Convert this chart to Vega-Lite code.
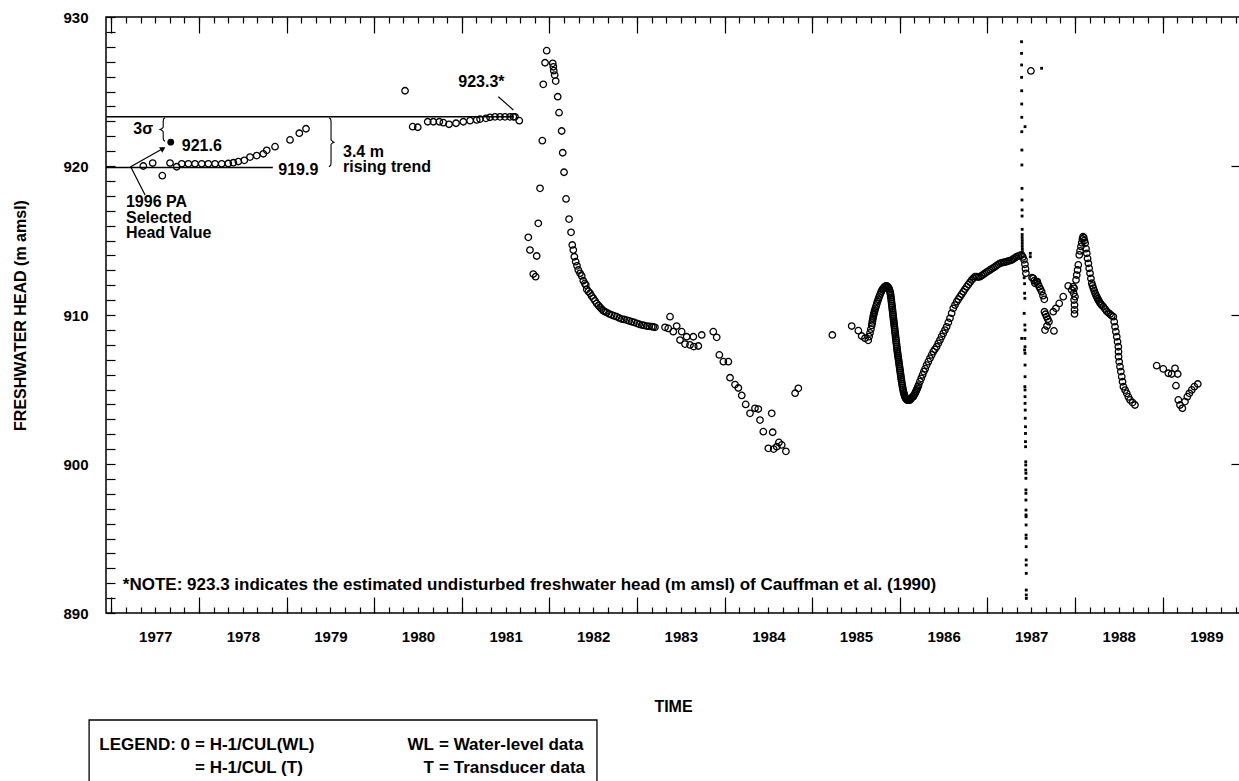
{
  "$schema": "https://vega.github.io/schema/vega-lite/v6.json",
  "width": 1134,
  "height": 596,
  "autosize": {"type": "none"},
  "padding": {"left": 106, "top": 17, "right": 0, "bottom": 168},
  "background": "white",
  "config": {
    "view": {"stroke": "black", "strokeWidth": 1.5},
    "font": "Liberation Sans",
    "axis": {
      "labelFont": "Liberation Sans", "labelFontWeight": "bold", "labelFontSize": 15, "labelColor": "black",
      "titleFont": "Liberation Sans", "titleFontWeight": "bold", "titleFontSize": 16, "titleColor": "black",
      "tickColor": "black", "tickWidth": 1.2, "grid": false, "domain": false,
      "labelFlush": false, "labelOverlap": false, "labelBound": false
    }
  },
  "datasets": {
    "wl": [
      {"t":1977.364,"h":920.0},{"t":1977.471,"h":920.2},{"t":1977.581,"h":919.35},{"t":1977.669,"h":920.2},{"t":1977.745,"h":919.95},
      {"t":1977.803,"h":920.15},{"t":1977.878,"h":920.15},{"t":1977.954,"h":920.15},{"t":1978.031,"h":920.15},{"t":1978.106,"h":920.15},
      {"t":1978.183,"h":920.15},{"t":1978.259,"h":920.15},{"t":1978.334,"h":920.17},{"t":1978.392,"h":920.22},{"t":1978.449,"h":920.3},
      {"t":1978.517,"h":920.38},{"t":1978.582,"h":920.6},{"t":1978.659,"h":920.7},{"t":1978.734,"h":920.82},{"t":1978.773,"h":921.05},
      {"t":1978.868,"h":921.3},{"t":1979.039,"h":921.75},{"t":1979.145,"h":922.2},{"t":1979.221,"h":922.5},
      {"t":1980.352,"h":925.05},{"t":1980.439,"h":922.64},{"t":1980.497,"h":922.6},{"t":1980.611,"h":922.97},{"t":1980.675,"h":922.97},
      {"t":1980.743,"h":922.97},{"t":1980.789,"h":922.91},{"t":1980.854,"h":922.8},{"t":1980.934,"h":922.87},{"t":1981.017,"h":922.97},
      {"t":1981.094,"h":923.04},{"t":1981.17,"h":923.09},{"t":1981.208,"h":923.15},{"t":1981.276,"h":923.2},{"t":1981.322,"h":923.27},
      {"t":1981.379,"h":923.3},{"t":1981.436,"h":923.3},{"t":1981.493,"h":923.3},{"t":1981.55,"h":923.3},{"t":1981.588,"h":923.3},
      {"t":1981.607,"h":923.3},{"t":1981.656,"h":923.04},
      {"t":1981.759,"h":915.21},{"t":1981.778,"h":914.36},{"t":1981.816,"h":912.75},{"t":1981.843,"h":912.57},{"t":1981.855,"h":913.96},
      {"t":1981.873,"h":916.15},{"t":1981.893,"h":918.5},{"t":1981.919,"h":921.7},{"t":1981.93,"h":925.48},{"t":1981.95,"h":926.93},
      {"t":1981.969,"h":927.74},{"t":1982.038,"h":926.89},{"t":1982.045,"h":926.66},{"t":1982.05,"h":926.4},{"t":1982.06,"h":926.1},
      {"t":1982.072,"h":925.7},{"t":1982.095,"h":924.65},{"t":1982.11,"h":923.58},{"t":1982.14,"h":922.35},{"t":1982.152,"h":920.89},
      {"t":1982.167,"h":919.58},{"t":1982.19,"h":917.79},{"t":1982.224,"h":916.44},{"t":1982.247,"h":915.55},{"t":1982.261,"h":914.7},
      {"t":1982.273,"h":914.36},{"t":1982.285,"h":913.91},{"t":1982.3,"h":913.58},{"t":1982.315,"h":913.3},{"t":1982.33,"h":913.02},
      {"t":1982.35,"h":912.8},{"t":1982.369,"h":912.62},{"t":1982.387,"h":912.3},{"t":1982.405,"h":912.12},{"t":1982.415,"h":912.01},
      {"t":1982.426,"h":911.72},{"t":1982.445,"h":911.58},{"t":1982.464,"h":911.46},{"t":1982.482,"h":911.28},{"t":1982.501,"h":911.12},
      {"t":1982.52,"h":910.95},{"t":1982.54,"h":910.78},{"t":1982.56,"h":910.64},{"t":1982.578,"h":910.52},{"t":1982.597,"h":910.4},
      {"t":1982.615,"h":910.29},{"t":1982.635,"h":910.22},{"t":1982.654,"h":910.16},{"t":1982.683,"h":910.07},{"t":1982.711,"h":910.0},
      {"t":1982.74,"h":909.94},{"t":1982.768,"h":909.89},{"t":1982.797,"h":909.8},{"t":1982.825,"h":909.73},{"t":1982.853,"h":909.7},
      {"t":1982.882,"h":909.66},{"t":1982.91,"h":909.6},{"t":1982.939,"h":909.55},{"t":1982.968,"h":909.5},{"t":1982.997,"h":909.44},
      {"t":1983.025,"h":909.38},{"t":1983.054,"h":909.33},{"t":1983.08,"h":909.3},{"t":1983.111,"h":909.26},{"t":1983.14,"h":909.24},
      {"t":1983.168,"h":909.22},{"t":1983.185,"h":909.2},{"t":1983.205,"h":909.17},
      {"t":1983.32,"h":909.17},{"t":1983.357,"h":909.1},{"t":1983.377,"h":909.89},{"t":1983.414,"h":908.88},{"t":1983.453,"h":909.26},
      {"t":1983.491,"h":908.32},{"t":1983.51,"h":908.88},{"t":1983.548,"h":908.05},{"t":1983.567,"h":908.54},{"t":1983.605,"h":907.99},
      {"t":1983.643,"h":908.54},{"t":1983.648,"h":907.88},{"t":1983.7,"h":907.92},{"t":1983.739,"h":908.66},{"t":1983.871,"h":908.88},
      {"t":1983.91,"h":908.5},{"t":1983.94,"h":907.32},{"t":1983.986,"h":906.87},{"t":1984.043,"h":906.87},{"t":1984.062,"h":905.79},
      {"t":1984.119,"h":905.33},{"t":1984.157,"h":905.1},{"t":1984.196,"h":904.6},{"t":1984.241,"h":904.0},{"t":1984.29,"h":903.4},
      {"t":1984.347,"h":903.74},{"t":1984.385,"h":903.69},{"t":1984.404,"h":902.95},{"t":1984.442,"h":902.17},{"t":1984.538,"h":903.4},
      {"t":1984.549,"h":902.13},{"t":1984.499,"h":901.05},{"t":1984.56,"h":901.0},{"t":1984.595,"h":901.16},{"t":1984.62,"h":901.45},
      {"t":1984.652,"h":901.28},{"t":1984.7,"h":900.85},{"t":1984.805,"h":904.75},{"t":1984.842,"h":905.08},
      {"t":1985.23,"h":908.66},{"t":1985.451,"h":909.26},{"t":1985.527,"h":908.95},{"t":1985.565,"h":908.59},{"t":1985.603,"h":908.44},
      {"t":1985.64,"h":908.3},{"t":1985.65,"h":908.55},{"t":1985.66,"h":908.8},{"t":1985.67,"h":909.05},{"t":1985.68,"h":909.3},
      {"t":1985.684,"h":909.45},{"t":1985.688,"h":909.6},{"t":1985.693,"h":909.75},{"t":1985.697,"h":909.89},{"t":1985.701,"h":910.0},
      {"t":1985.705,"h":910.1},{"t":1985.71,"h":910.2},{"t":1985.714,"h":910.3},{"t":1985.722,"h":910.45},
      {"t":1985.73,"h":910.6},{"t":1985.738,"h":910.75},{"t":1985.746,"h":910.9},{"t":1985.755,"h":911.05},{"t":1985.764,"h":911.2},
      {"t":1985.773,"h":911.35},{"t":1985.782,"h":911.48},{"t":1985.791,"h":911.6},{"t":1985.8,"h":911.7},{"t":1985.81,"h":911.78},
      {"t":1985.82,"h":911.85},{"t":1985.83,"h":911.9},{"t":1985.84,"h":911.95},{"t":1985.85,"h":911.95},{"t":1985.86,"h":911.92},
      {"t":1985.87,"h":911.85},{"t":1985.88,"h":911.75},
      {"t":1985.888,"h":911.6},{"t":1985.891,"h":911.5},{"t":1985.894,"h":911.4},{"t":1985.897,"h":911.28},{"t":1985.9,"h":911.15},
      {"t":1985.9025,"h":911.03},{"t":1985.905,"h":910.9},{"t":1985.9075,"h":910.78},{"t":1985.91,"h":910.65},{"t":1985.9125,"h":910.53},
      {"t":1985.915,"h":910.4},{"t":1985.9175,"h":910.28},{"t":1985.92,"h":910.15},{"t":1985.9225,"h":910.03},{"t":1985.925,"h":909.9},
      {"t":1985.9275,"h":909.78},{"t":1985.93,"h":909.65},{"t":1985.9325,"h":909.53},{"t":1985.935,"h":909.4},{"t":1985.9375,"h":909.28},
      {"t":1985.94,"h":909.15},{"t":1985.9425,"h":909.03},{"t":1985.945,"h":908.9},{"t":1985.9475,"h":908.78},{"t":1985.95,"h":908.65},
      {"t":1985.9525,"h":908.53},{"t":1985.955,"h":908.4},{"t":1985.9575,"h":908.28},{"t":1985.96,"h":908.15},{"t":1985.9625,"h":908.03},
      {"t":1985.965,"h":907.9},{"t":1985.9675,"h":907.78},{"t":1985.97,"h":907.65},{"t":1985.973,"h":907.53},{"t":1985.976,"h":907.4},
      {"t":1985.979,"h":907.28},{"t":1985.982,"h":907.15},{"t":1985.985,"h":907.03},{"t":1985.988,"h":906.9},{"t":1985.991,"h":906.78},
      {"t":1985.994,"h":906.65},{"t":1985.997,"h":906.53},{"t":1986.0,"h":906.4},{"t":1986.003,"h":906.28},{"t":1986.006,"h":906.15},
      {"t":1986.009,"h":906.03},{"t":1986.012,"h":905.9},{"t":1986.015,"h":905.78},{"t":1986.018,"h":905.65},{"t":1986.021,"h":905.53},
      {"t":1986.025,"h":905.4},{"t":1986.028,"h":905.28},{"t":1986.032,"h":905.15},{"t":1986.036,"h":905.03},{"t":1986.04,"h":904.9},
      {"t":1986.045,"h":904.78},{"t":1986.05,"h":904.68},{"t":1986.055,"h":904.58},{"t":1986.06,"h":904.5},{"t":1986.066,"h":904.43},
      {"t":1986.072,"h":904.38},{"t":1986.078,"h":904.33},{"t":1986.085,"h":904.3},{"t":1986.092,"h":904.28},{"t":1986.1,"h":904.28},
      {"t":1986.107,"h":904.28},{"t":1986.115,"h":904.3},{"t":1986.122,"h":904.34},{"t":1986.13,"h":904.4},{"t":1986.142,"h":904.5},
      {"t":1986.154,"h":904.52},{"t":1986.162,"h":904.61},{"t":1986.17,"h":904.7},{"t":1986.178,"h":904.79},
      {"t":1986.185,"h":904.88},{"t":1986.193,"h":904.98},{"t":1986.2,"h":905.08},{"t":1986.208,"h":905.19},{"t":1986.215,"h":905.3},
      {"t":1986.23,"h":905.53},{"t":1986.245,"h":905.75},
      {"t":1986.26,"h":905.98},{"t":1986.275,"h":906.2},{"t":1986.29,"h":906.4},{"t":1986.307,"h":906.64},{"t":1986.326,"h":906.87},
      {"t":1986.345,"h":907.09},{"t":1986.364,"h":907.32},{"t":1986.382,"h":907.54},{"t":1986.401,"h":907.7},{"t":1986.421,"h":907.87},
      {"t":1986.44,"h":908.1},{"t":1986.459,"h":908.32},{"t":1986.478,"h":908.55},{"t":1986.497,"h":908.77},{"t":1986.516,"h":908.99},
      {"t":1986.535,"h":909.21},{"t":1986.554,"h":909.5},{"t":1986.573,"h":909.78},{"t":1986.592,"h":910.12},{"t":1986.611,"h":910.45},
      {"t":1986.63,"h":910.67},{"t":1986.65,"h":910.89},{"t":1986.668,"h":911.06},{"t":1986.687,"h":911.23},{"t":1986.706,"h":911.4},
      {"t":1986.725,"h":911.56},{"t":1986.744,"h":911.73},{"t":1986.764,"h":911.9},{"t":1986.783,"h":912.05},{"t":1986.802,"h":912.2},
      {"t":1986.821,"h":912.35},{"t":1986.84,"h":912.46},{"t":1986.858,"h":912.57},{"t":1986.878,"h":912.57},{"t":1986.897,"h":912.55},
      {"t":1986.916,"h":912.57},{"t":1986.935,"h":912.65},{"t":1986.954,"h":912.72},{"t":1986.973,"h":912.8},{"t":1986.992,"h":912.88},
      {"t":1987.011,"h":912.95},{"t":1987.03,"h":913.02},{"t":1987.049,"h":913.1},{"t":1987.068,"h":913.17},{"t":1987.087,"h":913.24},
      {"t":1987.106,"h":913.32},{"t":1987.125,"h":913.4},{"t":1987.144,"h":913.47},{"t":1987.163,"h":913.5},{"t":1987.182,"h":913.53},
      {"t":1987.201,"h":913.55},{"t":1987.22,"h":913.58},{"t":1987.239,"h":913.62},{"t":1987.258,"h":913.65},{"t":1987.277,"h":913.69},
      {"t":1987.296,"h":913.76},{"t":1987.315,"h":913.84},{"t":1987.334,"h":913.91},{"t":1987.353,"h":913.95},{"t":1987.372,"h":914.0},
      {"t":1987.391,"h":914.03},{"t":1987.405,"h":913.9},{"t":1987.418,"h":913.7},{"t":1987.429,"h":913.4},{"t":1987.435,"h":913.1},
      {"t":1987.44,"h":912.8},
      {"t":1987.497,"h":926.38},
      {"t":1987.51,"h":912.5},{"t":1987.524,"h":912.46},{"t":1987.535,"h":912.3},{"t":1987.543,"h":912.13},{"t":1987.557,"h":912.24},
      {"t":1987.57,"h":912.24},{"t":1987.58,"h":912.05},{"t":1987.592,"h":911.9},{"t":1987.605,"h":911.75},{"t":1987.62,"h":911.56},
      {"t":1987.635,"h":911.3},{"t":1987.65,"h":911.05},{"t":1987.652,"h":910.22},{"t":1987.664,"h":910.05},{"t":1987.677,"h":909.89},
      {"t":1987.69,"h":909.72},{"t":1987.703,"h":909.55},{"t":1987.68,"h":909.26},{"t":1987.658,"h":908.99},{"t":1987.76,"h":908.93},
      {"t":1987.752,"h":910.22},{"t":1987.783,"h":910.45},{"t":1987.82,"h":910.78},{"t":1987.866,"h":911.23},{"t":1987.923,"h":911.95},
      {"t":1987.962,"h":911.68},{"t":1987.98,"h":911.9},{"t":1987.99,"h":911.79},{"t":1987.985,"h":911.46},{"t":1988.0,"h":911.23},
      {"t":1987.99,"h":911.0},{"t":1987.995,"h":910.67},{"t":1987.995,"h":910.34},{"t":1987.995,"h":910.07},
      {"t":1988.012,"h":912.35},{"t":1988.02,"h":912.68},{"t":1988.03,"h":913.02},{"t":1988.038,"h":913.36},{"t":1988.049,"h":914.03},
      {"t":1988.058,"h":914.3},{"t":1988.068,"h":914.6},{"t":1988.077,"h":914.85},{"t":1988.085,"h":915.1},{"t":1988.092,"h":915.26},
      {"t":1988.1,"h":915.2},{"t":1988.108,"h":915.0},{"t":1988.116,"h":914.81},{"t":1988.126,"h":914.45},{"t":1988.135,"h":914.14},
      {"t":1988.144,"h":913.8},{"t":1988.153,"h":913.47},{"t":1988.162,"h":913.13},{"t":1988.172,"h":912.8},{"t":1988.182,"h":912.45},
      {"t":1988.192,"h":912.13},{"t":1988.2,"h":911.96},{"t":1988.21,"h":911.8},{"t":1988.22,"h":911.63},{"t":1988.23,"h":911.46},
      {"t":1988.24,"h":911.33},{"t":1988.25,"h":911.2},{"t":1988.258,"h":911.1},{"t":1988.267,"h":911.0},
      {"t":1988.277,"h":910.9},{"t":1988.287,"h":910.8},{"t":1988.296,"h":910.73},{"t":1988.306,"h":910.66},{"t":1988.324,"h":910.56},
      {"t":1988.344,"h":910.4},{"t":1988.362,"h":910.25},
      {"t":1988.381,"h":910.15},{"t":1988.401,"h":910.05},{"t":1988.42,"h":909.95},{"t":1988.438,"h":909.89},{"t":1988.448,"h":909.55},
      {"t":1988.457,"h":909.21},{"t":1988.467,"h":908.88},{"t":1988.477,"h":908.54},{"t":1988.486,"h":908.2},{"t":1988.495,"h":907.87},
      {"t":1988.497,"h":907.54},{"t":1988.498,"h":907.2},{"t":1988.505,"h":906.86},{"t":1988.514,"h":906.53},{"t":1988.524,"h":906.2},
      {"t":1988.534,"h":905.86},{"t":1988.543,"h":905.52},{"t":1988.553,"h":905.19},{"t":1988.572,"h":904.96},{"t":1988.591,"h":904.74},
      {"t":1988.61,"h":904.5},{"t":1988.629,"h":904.3},{"t":1988.657,"h":904.12},{"t":1988.685,"h":903.96},
      {"t":1988.933,"h":906.6},{"t":1989.008,"h":906.38},{"t":1989.066,"h":906.09},{"t":1989.104,"h":906.04},{"t":1989.142,"h":906.42},
      {"t":1989.173,"h":906.04},{"t":1989.153,"h":905.26},{"t":1989.18,"h":904.3},{"t":1989.199,"h":903.96},{"t":1989.226,"h":903.74},
      {"t":1989.256,"h":904.19},{"t":1989.283,"h":904.52},{"t":1989.306,"h":904.74},{"t":1989.333,"h":904.97},{"t":1989.363,"h":905.19},
      {"t":1989.402,"h":905.37}
    ],
    "tr": [
      {"t":1987.39,"h":928.34},{"t":1987.39,"h":927.56},{"t":1987.391,"h":926.78},{"t":1987.391,"h":925.95},{"t":1987.392,"h":925.05},
      {"t":1987.392,"h":924.16},{"t":1987.393,"h":923.27},{"t":1987.393,"h":922.3},{"t":1987.394,"h":921.07},{"t":1987.394,"h":920.07},
      {"t":1987.395,"h":918.5},{"t":1987.395,"h":917.72},{"t":1987.396,"h":917.05},{"t":1987.396,"h":916.64},{"t":1987.397,"h":915.75},
      {"t":1987.397,"h":915.4},{"t":1987.397,"h":915.2},{"t":1987.398,"h":915.0},{"t":1987.398,"h":914.8},{"t":1987.398,"h":914.6},
      {"t":1987.399,"h":914.4},{"t":1987.399,"h":914.2},{"t":1987.43,"h":922.64},{"t":1987.619,"h":926.56},{"t":1987.49,"h":914.14},
      {"t":1987.49,"h":913.91},{"t":1987.42,"h":912.5},{"t":1987.425,"h":912.1},{"t":1987.425,"h":911.46},{"t":1987.428,"h":911.12},
      {"t":1987.42,"h":910.11},{"t":1987.428,"h":909.33},{"t":1987.43,"h":908.99},{"t":1987.392,"h":908.43},{"t":1987.428,"h":908.43},
      {"t":1987.43,"h":907.87},{"t":1987.425,"h":907.65},{"t":1987.43,"h":907.43},{"t":1987.43,"h":906.64},{"t":1987.43,"h":905.86},
      {"t":1987.428,"h":905.19},{"t":1987.43,"h":904.97},{"t":1987.43,"h":904.52},{"t":1987.43,"h":904.07},{"t":1987.432,"h":903.62},
      {"t":1987.432,"h":903.07},{"t":1987.435,"h":902.5},{"t":1987.435,"h":902.05},{"t":1987.435,"h":901.5},{"t":1987.436,"h":901.16},
      {"t":1987.438,"h":900.15},{"t":1987.438,"h":899.93},{"t":1987.438,"h":899.6},{"t":1987.44,"h":899.38},{"t":1987.44,"h":899.04},
      {"t":1987.44,"h":898.26},{"t":1987.44,"h":898.03},{"t":1987.44,"h":897.58},{"t":1987.441,"h":896.91},{"t":1987.441,"h":896.58},
      {"t":1987.442,"h":896.46},{"t":1987.442,"h":895.91},{"t":1987.442,"h":895.23},{"t":1987.442,"h":895.01},{"t":1987.443,"h":894.45},
      {"t":1987.443,"h":893.56},{"t":1987.443,"h":893.22},{"t":1987.444,"h":892.66},{"t":1987.444,"h":891.54},{"t":1987.444,"h":891.21},
      {"t":1987.445,"h":890.98}
    ],
    "selected": [{"t":1977.677,"h":921.6}],
    "levels": [
      {"t":1976.938,"t2":1981.59,"h":923.3},
      {"t":1976.938,"t2":1978.843,"h":919.9}
    ],
    "leaders": [
      {"id":"pa","o":1,"t":1977.384,"h":918.05},
      {"id":"pa","o":2,"t":1977.22,"h":919.95},
      {"id":"pa","o":3,"t":1977.589,"h":921.17},
      {"id":"nt","o":1,"t":1981.417,"h":924.65},
      {"id":"nt","o":2,"t":1981.588,"h":923.76}
    ],
    "arrowhead": [{"t":1977.589,"h":921.17}],
    "braces": [
      {"id":"sigma","o":1,"t":1977.612,"h":923.25},{"id":"sigma","o":2,"t":1977.595,"h":923.15},
      {"id":"sigma","o":3,"t":1977.591,"h":923.0},{"id":"sigma","o":4,"t":1977.591,"h":922.6},
      {"id":"sigma","o":5,"t":1977.575,"h":922.5},{"id":"sigma","o":6,"t":1977.555,"h":922.45},
      {"id":"sigma","o":7,"t":1977.575,"h":922.4},{"id":"sigma","o":8,"t":1977.591,"h":922.3},
      {"id":"sigma","o":9,"t":1977.591,"h":921.9},{"id":"sigma","o":10,"t":1977.595,"h":921.75},
      {"id":"sigma","o":11,"t":1977.612,"h":921.65},
      {"id":"rise","o":1,"t":1979.484,"h":923.25},{"id":"rise","o":2,"t":1979.503,"h":923.15},
      {"id":"rise","o":3,"t":1979.507,"h":923.0},{"id":"rise","o":4,"t":1979.507,"h":921.75},
      {"id":"rise","o":5,"t":1979.523,"h":921.65},{"id":"rise","o":6,"t":1979.541,"h":921.6},
      {"id":"rise","o":7,"t":1979.523,"h":921.55},{"id":"rise","o":8,"t":1979.507,"h":921.45},
      {"id":"rise","o":9,"t":1979.507,"h":920.2},{"id":"rise","o":10,"t":1979.503,"h":920.05},
      {"id":"rise","o":11,"t":1979.484,"h":919.95}
    ],
    "notes": [
      {"t":1977.25,"h":922.45,"label":"3σ"},
      {"t":1977.803,"h":921.35,"label":"921.6"},
      {"t":1978.905,"h":919.75,"label":"919.9"},
      {"t":1979.644,"h":920.95,"label":"3.4 m"},
      {"t":1979.644,"h":919.93,"label":"rising trend"},
      {"t":1977.166,"h":917.6,"label":"1996 PA"},
      {"t":1977.166,"h":916.5,"label":"Selected"},
      {"t":1977.166,"h":915.48,"label":"Head Value"},
      {"t":1980.96,"h":925.66,"label":"923.3*"}
    ],
    "footnote": [
      {"t":1977.13,"h":891.9,"label":"*NOTE:  923.3 indicates the estimated undisturbed freshwater head (m amsl) of Cauffman et al. (1990)"}
    ],
    "legendBox": [{"t":1976.745,"t2":1982.543,"h":882.82,"h2":877.45}],
    "legendLeft": [
      {"t":1977.954,"h":881.14,"label":"= H-1/CUL(WL)"},
      {"t":1977.954,"h":879.6,"label":"= H-1/CUL (T)"},
      {"t":1980.74,"h":881.14,"label":"= Water-level data"},
      {"t":1980.74,"h":879.6,"label":"= Transducer data"}
    ],
    "legendRight": [
      {"t":1977.897,"h":881.14,"label":"LEGEND:  0"},
      {"t":1980.682,"h":881.14,"label":"WL"},
      {"t":1980.682,"h":879.6,"label":"T"}
    ]
  },
  "layer": [
    {
      "data": {"name": "wl"},
      "mark": {"type": "point", "shape": "circle", "filled": false, "stroke": "black", "strokeWidth": 1.3, "size": 42, "opacity": 1},
      "encoding": {
        "x": {"field": "t", "type": "quantitative",
          "scale": {"domain": [1976.938, 1989.884], "nice": false, "zero": false},
          "axis": {"orient": "bottom", "ticks": false, "labelPadding": 16,
            "values": [1977.5,1978.5,1979.5,1980.5,1981.5,1982.5,1983.5,1984.5,1985.5,1986.5,1987.5,1988.5,1989.5],
            "labelExpr": "'' + floor(datum.value)", "title": "TIME", "titlePadding": 54}},
        "y": {"field": "h", "type": "quantitative",
          "scale": {"domain": [890, 930], "nice": false, "zero": false},
          "axis": {"orient": "left", "ticks": false, "labelPadding": 18, "values": [890, 900, 910, 920, 930],
            "title": "FRESHWATER HEAD (m amsl)", "titlePadding": 34}}
      }
    },
    {
      "data": {"name": "tr"},
      "mark": {"type": "point", "shape": "square", "filled": true, "fill": "black", "size": 8, "opacity": 1},
      "encoding": {
        "x": {"field": "t", "type": "quantitative",
          "scale": {"domain": [1976.938, 1989.884], "nice": false, "zero": false},
          "axis": {"orient": "bottom", "labels": false, "title": null, "tickSize": -16,
            "values": [1977,1978,1979,1980,1981,1982,1983,1984,1985,1986,1987,1988,1989]}},
        "y": {"field": "h", "type": "quantitative",
          "scale": {"domain": [890, 930], "nice": false, "zero": false},
          "axis": {"orient": "right", "labels": false, "title": null, "tickSize": -9, "values": [900, 910, 920]}}
      }
    },
    {
      "data": {"name": "selected"},
      "mark": {"type": "point", "shape": "circle", "filled": true, "fill": "black", "size": 45, "opacity": 1},
      "encoding": {
        "x": {"field": "t", "type": "quantitative",
          "scale": {"domain": [1976.938, 1989.884], "nice": false, "zero": false},
          "axis": {"orient": "bottom", "labels": false, "title": null, "tickSize": -6,
            "values": [1977,1977.1667,1977.3333,1977.5,1977.6667,1977.8333,1978,1978.1667,1978.3333,1978.5,1978.6667,1978.8333,
              1979,1979.1667,1979.3333,1979.5,1979.6667,1979.8333,1980,1980.1667,1980.3333,1980.5,1980.6667,1980.8333,
              1981,1981.1667,1981.3333,1981.5,1981.6667,1981.8333,1982,1982.1667,1982.3333,1982.5,1982.6667,1982.8333,
              1983,1983.1667,1983.3333,1983.5,1983.6667,1983.8333,1984,1984.1667,1984.3333,1984.5,1984.6667,1984.8333,
              1985,1985.1667,1985.3333,1985.5,1985.6667,1985.8333,1986,1986.1667,1986.3333,1986.5,1986.6667,1986.8333,
              1987,1987.1667,1987.3333,1987.5,1987.6667,1987.8333,1988,1988.1667,1988.3333,1988.5,1988.6667,1988.8333,
              1989,1989.1667,1989.3333,1989.5,1989.6667,1989.8333]}},
        "y": {"field": "h", "type": "quantitative",
          "scale": {"domain": [890, 930], "nice": false, "zero": false},
          "axis": {"orient": "left", "labels": false, "title": null, "tickSize": -9,
            "values": [890,891,892,893,894,895,896,897,898,899,900,901,902,903,904,905,906,907,908,909,910,
              911,912,913,914,915,916,917,918,919,920,921,922,923,924,925,926,927,928,929,930]}}
      }
    },
    {
      "data": {"name": "levels"},
      "mark": {"type": "rule", "stroke": "black", "strokeWidth": 1.5},
      "encoding": {
        "x": {"field": "t", "type": "quantitative",
          "scale": {"domain": [1976.938, 1989.884], "nice": false, "zero": false},
          "axis": {"orient": "top", "labels": false, "title": null, "tickSize": -16,
            "values": [1977,1978,1979,1980,1981,1982,1983,1984,1985,1986,1987,1988,1989]}},
        "x2": {"field": "t2"},
        "y": {"field": "h", "type": "quantitative",
          "scale": {"domain": [890, 930], "nice": false, "zero": false}, "axis": null}
      }
    },
    {
      "data": {"name": "leaders"},
      "mark": {"type": "line", "stroke": "black", "strokeWidth": 1.2},
      "encoding": {
        "x": {"field": "t", "type": "quantitative",
          "scale": {"domain": [1976.938, 1989.884], "nice": false, "zero": false},
          "axis": {"orient": "top", "labels": false, "title": null, "tickSize": -6,
            "values": [1977,1977.1667,1977.3333,1977.5,1977.6667,1977.8333,1978,1978.1667,1978.3333,1978.5,1978.6667,1978.8333,
              1979,1979.1667,1979.3333,1979.5,1979.6667,1979.8333,1980,1980.1667,1980.3333,1980.5,1980.6667,1980.8333,
              1981,1981.1667,1981.3333,1981.5,1981.6667,1981.8333,1982,1982.1667,1982.3333,1982.5,1982.6667,1982.8333,
              1983,1983.1667,1983.3333,1983.5,1983.6667,1983.8333,1984,1984.1667,1984.3333,1984.5,1984.6667,1984.8333,
              1985,1985.1667,1985.3333,1985.5,1985.6667,1985.8333,1986,1986.1667,1986.3333,1986.5,1986.6667,1986.8333,
              1987,1987.1667,1987.3333,1987.5,1987.6667,1987.8333,1988,1988.1667,1988.3333,1988.5,1988.6667,1988.8333,
              1989,1989.1667,1989.3333,1989.5,1989.6667,1989.8333]}},
        "y": {"field": "h", "type": "quantitative",
          "scale": {"domain": [890, 930], "nice": false, "zero": false}, "axis": null},
        "detail": {"field": "id"},
        "order": {"field": "o"}
      }
    },
    {
      "data": {"name": "arrowhead"},
      "mark": {"type": "point", "shape": "triangle-up", "filled": true, "fill": "black", "size": 40, "angle": 60, "opacity": 1},
      "encoding": {
        "x": {"field": "t", "type": "quantitative",
          "scale": {"domain": [1976.938, 1989.884], "nice": false, "zero": false}, "axis": null},
        "y": {"field": "h", "type": "quantitative",
          "scale": {"domain": [890, 930], "nice": false, "zero": false}, "axis": null}
      }
    },
    {
      "data": {"name": "braces"},
      "mark": {"type": "line", "stroke": "black", "strokeWidth": 1.1},
      "encoding": {
        "x": {"field": "t", "type": "quantitative",
          "scale": {"domain": [1976.938, 1989.884], "nice": false, "zero": false}, "axis": null},
        "y": {"field": "h", "type": "quantitative",
          "scale": {"domain": [890, 930], "nice": false, "zero": false}, "axis": null},
        "detail": {"field": "id"},
        "order": {"field": "o"}
      }
    },
    {
      "data": {"name": "notes"},
      "mark": {"type": "text", "align": "left", "baseline": "middle", "font": "Liberation Sans", "fontWeight": "bold", "fontSize": 16, "color": "black"},
      "encoding": {
        "x": {"field": "t", "type": "quantitative",
          "scale": {"domain": [1976.938, 1989.884], "nice": false, "zero": false}, "axis": null},
        "y": {"field": "h", "type": "quantitative",
          "scale": {"domain": [890, 930], "nice": false, "zero": false}, "axis": null},
        "text": {"field": "label"}
      }
    },
    {
      "data": {"name": "footnote"},
      "mark": {"type": "text", "align": "left", "baseline": "middle", "font": "Liberation Sans", "fontWeight": "bold", "fontSize": 17, "color": "black"},
      "encoding": {
        "x": {"field": "t", "type": "quantitative",
          "scale": {"domain": [1976.938, 1989.884], "nice": false, "zero": false}, "axis": null},
        "y": {"field": "h", "type": "quantitative",
          "scale": {"domain": [890, 930], "nice": false, "zero": false}, "axis": null},
        "text": {"field": "label"}
      }
    },
    {
      "data": {"name": "legendBox"},
      "mark": {"type": "rect", "fill": "white", "fillOpacity": 0, "stroke": "black", "strokeWidth": 1.3},
      "encoding": {
        "x": {"field": "t", "type": "quantitative",
          "scale": {"domain": [1976.938, 1989.884], "nice": false, "zero": false}, "axis": null},
        "x2": {"field": "t2"},
        "y": {"field": "h", "type": "quantitative",
          "scale": {"domain": [890, 930], "nice": false, "zero": false}, "axis": null},
        "y2": {"field": "h2"}
      }
    },
    {
      "data": {"name": "legendLeft"},
      "mark": {"type": "text", "align": "left", "baseline": "middle", "font": "Liberation Sans", "fontWeight": "bold", "fontSize": 17, "color": "black"},
      "encoding": {
        "x": {"field": "t", "type": "quantitative",
          "scale": {"domain": [1976.938, 1989.884], "nice": false, "zero": false}, "axis": null},
        "y": {"field": "h", "type": "quantitative",
          "scale": {"domain": [890, 930], "nice": false, "zero": false}, "axis": null},
        "text": {"field": "label"}
      }
    },
    {
      "data": {"name": "legendRight"},
      "mark": {"type": "text", "align": "right", "baseline": "middle", "font": "Liberation Sans", "fontWeight": "bold", "fontSize": 17, "color": "black"},
      "encoding": {
        "x": {"field": "t", "type": "quantitative",
          "scale": {"domain": [1976.938, 1989.884], "nice": false, "zero": false}, "axis": null},
        "y": {"field": "h", "type": "quantitative",
          "scale": {"domain": [890, 930], "nice": false, "zero": false}, "axis": null},
        "text": {"field": "label"}
      }
    }
  ],
  "resolve": {"axis": {"x": "independent", "y": "independent"}}
}
